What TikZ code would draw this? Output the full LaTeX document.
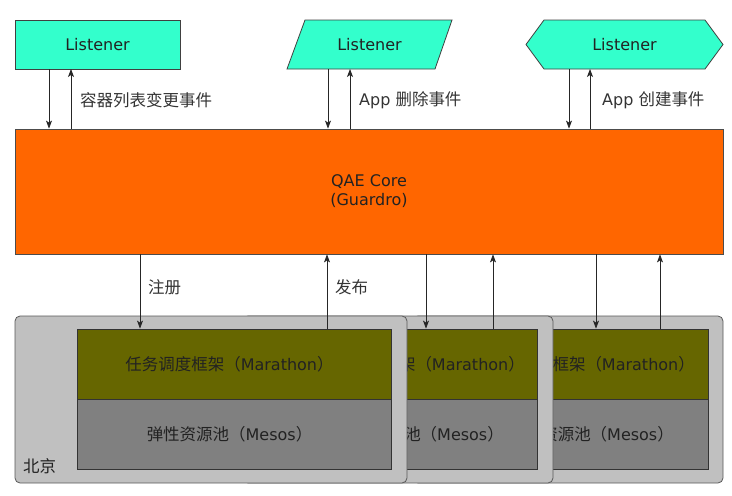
\documentclass[tikz,border=0pt]{standalone}
\usepackage{fontspec}
\setmainfont{DejaVu Sans}
\newfontfamily\cjk[Scale=1.03]{Noto Sans CJK SC}
\usetikzlibrary{arrows.meta}
\definecolor{listen}{RGB}{51,255,204}
\definecolor{corec}{RGB}{255,102,0}
\definecolor{olivec}{RGB}{102,102,0}
\definecolor{mesosc}{RGB}{128,128,128}
\definecolor{panelc}{RGB}{192,192,192}
\definecolor{txt}{RGB}{34,34,34}
\begin{document}
\begin{tikzpicture}[x=1pt,y=-1pt,
  every node/.style={font=\fontsize{16}{19}\selectfont, text=txt, inner sep=0pt},
  lshape/.style={fill=listen, draw=black!75, line width=0.8pt},
  corebox/.style={fill=corec, draw=black!70, line width=0.8pt},
  panelbox/.style={fill=panelc, draw=black!65, line width=0.8pt, rounded corners=5pt},
  marbox/.style={fill=olivec, draw=black!80, line width=0.8pt},
  mesbox/.style={fill=mesosc, draw=black!80, line width=0.8pt},
  arr/.style={draw=black!85, line width=0.8pt, -{Stealth[length=8pt,width=6pt,inset=2pt]}},
  lbl/.style={anchor=west, text=black!80},
  endtxt/.style={anchor=east}
]
\useasboundingbox (0,0) rectangle (732,496);

% listeners
\draw[lshape] (15,20) rectangle (180,69);
\node (L1) at (97.5,44.5) {Listener};
\draw[lshape] (287,69) -- (305,20) -- (452,20) -- (435,69) -- cycle;
\node (L2) at (369.5,44.5) {Listener};
\draw[lshape] (526,44.5) -- (544,20) -- (705,20) -- (723,44.5) -- (705,69) -- (544,69) -- cycle;
\node (L3) at (624.5,44.5) {Listener};
\coordinate (L1b) at (0,69);
\coordinate (L2b) at (0,69);
\coordinate (L3b) at (0,69);

% core
\node[corebox, minimum width=708pt, minimum height=125pt] (core) at (369,191.5) {};
\node[align=center] (coretext) at (369,191) {QAE Core\\(Guardro)};

% back panel (right)
\node[panelbox, minimum width=310pt, minimum height=167pt] (P3) at (568,399.5) {};
\node[marbox, minimum width=233pt, minimum height=70pt] (M3) at (591.5,364) {};
\node[mesbox, minimum width=233pt, minimum height=70pt] (S3) at (591.5,434) {};
\node[endtxt] at (695,364) {{\cjk 框架（}Marathon{\cjk ）}};
\node[endtxt] at (674,434) {{\cjk 资源池（}Mesos{\cjk ）}};

% middle panel
\node[panelbox, minimum width=310pt, minimum height=167pt] (P2) at (398,399.5) {};
\node[marbox, minimum width=232pt, minimum height=70pt] (M2) at (421,364) {};
\node[mesbox, minimum width=232pt, minimum height=70pt] (S2) at (421,434) {};
\node[endtxt] at (525,364) {{\cjk 架（}Marathon{\cjk ）}};
\node[endtxt] at (504,434) {{\cjk 池（}Mesos{\cjk ）}};

% front panel
\node[panelbox, minimum width=392pt, minimum height=167pt] (P1) at (211,399.5) {};
\node[marbox, minimum width=314pt, minimum height=70pt] (M1) at (234,364) {};
\node[mesbox, minimum width=314pt, minimum height=70pt] (S1) at (234,434) {};
\node at (229.5,364) {{\cjk 任务调度框架（}Marathon{\cjk ）}};
\node at (229.5,434) {{\cjk 弹性资源池（}Mesos{\cjk ）}};
\node[lbl, text=txt] (bj) at (23,466) {\cjk 北京};

% x positions
\coordinate (a1) at (49,0);   \coordinate (b1) at (71,0);
\coordinate (a2) at (328,0);  \coordinate (b2) at (350,0);
\coordinate (a3) at (569,0);  \coordinate (b3) at (590,0);
\coordinate (c1) at (140,0);  \coordinate (e1) at (327,0);
\coordinate (c2) at (426,0);  \coordinate (e2) at (493,0);
\coordinate (c3) at (596,0);  \coordinate (e3) at (660,0);

% top arrows
\draw[arr] (L1b -| a1) -- (core.north -| a1);
\draw[arr] (core.north -| b1) -- (L1b -| b1);
\draw[arr] (L2b -| a2) -- (core.north -| a2);
\draw[arr] (core.north -| b2) -- (L2b -| b2);
\draw[arr] (L3b -| a3) -- (core.north -| a3);
\draw[arr] (core.north -| b3) -- (L3b -| b3);
\node[lbl] at (80,100) {\cjk 容器列表变更事件};
\node[lbl] at (359,100) {App {\cjk 删除事件}};
\node[lbl] at (602,100) {App {\cjk 创建事件}};

% bottom arrows
\draw[arr] (core.south -| c1) -- (M1.north -| c1);
\draw[arr] (M1.north -| e1) -- (core.south -| e1);
\draw[arr] (core.south -| c2) -- (M2.north -| c2);
\draw[arr] (M2.north -| e2) -- (core.south -| e2);
\draw[arr] (core.south -| c3) -- (M3.north -| c3);
\draw[arr] (M3.north -| e3) -- (core.south -| e3);
\node[lbl] at (148,287) {\cjk 注册};
\node[lbl] at (335,287) {\cjk 发布};
\end{tikzpicture}
\end{document}
